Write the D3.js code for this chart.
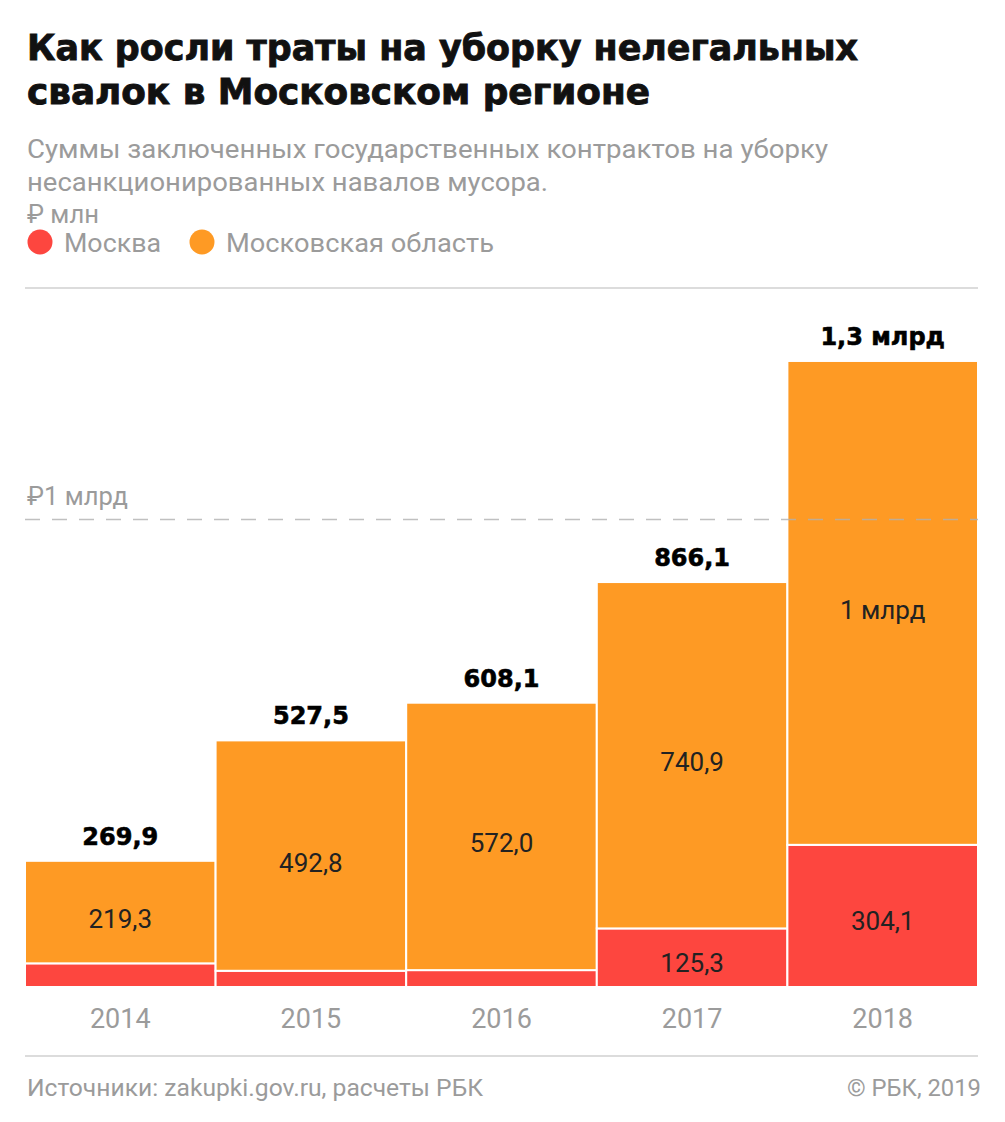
<!DOCTYPE html>
<html><head><meta charset="utf-8">
<script src="https://cdn.jsdelivr.net/npm/d3@7"></script>
<style>body{margin:0;background:#fff}svg{display:block}text{font-family:Roboto,"Noto Sans",sans-serif}</style>
</head><body>
<script>
const years = ["2014","2015","2016","2017","2018"];
const moscow = [50.6, 34.7, 36.1, 125.3, 304.1];
const region = [219.3, 492.8, 572.0, 740.9, 1035];
const totalLabels = ["269,9","527,5","608,1","866,1","1,3 млрд"];
const moscowLabels = ["","","","125,3","304,1"];
const regionLabels = ["219,3","492,8","572,0","740,9","1 млрд"];
const refValue = 1000;
const refLabel = "₽1 млрд";
const seriesNames = ["Москва","Московская область"];
const colors = ["#fd463f","#fe9a24"];

const W=1005,H=1122;
const svg=d3.select("body").append("svg").attr("width",W).attr("height",H);
const L=25,R=978;
const x=d3.scaleBand().domain(years).range([L,R]).padding(0);
const y=d3.scaleLinear().domain([0,1000]).range([987,519.5]);

function txt(xp,yp,s,size,fill,len,weight,family){
  const t=svg.append("text").attr("x",xp).attr("y",yp).attr("font-size",size).attr("fill",fill).text(s);
  if(weight) t.attr("font-weight",weight);
  if(family) t.style("font-family",family);
  if(len) t.attr("textLength",len).attr("lengthAdjust","spacingAndGlyphs");
  return t;
}
// title
const TF='"DejaVu Sans",sans-serif';
txt(27,60,"Как росли траты на уборку нелегальных",35,"#111",831,700,TF).attr("stroke","#111").attr("stroke-width",0.9);
txt(27,104,"свалок в Московском регионе",35,"#111",623,700,TF).attr("stroke","#111").attr("stroke-width",0.9);
txt(27,158,"Суммы заключенных государственных контрактов на уборку",25,"#9b9b9b",801);
txt(27,191,"несанкционированных навалов мусора.",25,"#9b9b9b",521);
txt(27,223,"₽ млн",25,"#9b9b9b",72);
// legend
const lx=[40,202], lw=[97,268];
seriesNames.forEach((n,i)=>{
  svg.append("circle").attr("cx",lx[i]).attr("cy",242).attr("r",12.5).attr("fill",colors[i]);
  txt(lx[i]+24,252,n,25,"#9b9b9b",lw[i]);
});
svg.append("line").attr("x1",L).attr("x2",R).attr("y1",288).attr("y2",288).attr("stroke","#dcdcdc").attr("stroke-width",2);

// bars
const g=svg.append("g");
years.forEach((yr,i)=>{
  const x0=x(yr), w=x.bandwidth();
  g.append("rect").attr("x",x0).attr("width",w).attr("y",y(moscow[i])).attr("height",y(0)-y(moscow[i]))
    .attr("fill",colors[0]).attr("stroke","#fff").attr("stroke-width",2);
  g.append("rect").attr("x",x0).attr("width",w).attr("y",y(moscow[i]+region[i])).attr("height",y(moscow[i])-y(moscow[i]+region[i]))
    .attr("fill",colors[1]).attr("stroke","#fff").attr("stroke-width",2);
});
// reference dashed line
svg.append("line").attr("x1",L).attr("x2",R).attr("y1",y(refValue)).attr("y2",y(refValue))
  .attr("stroke","#b0b0b0").attr("stroke-opacity",0.8).attr("stroke-width",1.5).attr("stroke-dasharray","15,12");
txt(27,y(refValue)-15,refLabel,25,"#9b9b9b",101);

// labels
years.forEach((yr,i)=>{
  const cx=x(yr)+x.bandwidth()/2;
  const top=moscow[i]+region[i];
  svg.append("text").attr("x",cx).attr("y",y(top)-16).attr("text-anchor","middle").attr("font-size",24).attr("font-weight",700)
    .style("font-family",TF).attr("fill","#000").attr("stroke","#000").attr("stroke-width",0.6).text(totalLabels[i]);
  svg.append("text").attr("x",cx).attr("y",(y(moscow[i])+y(top))/2+16).attr("text-anchor","middle").attr("font-size",26).attr("fill","#222").text(regionLabels[i]);
  if(moscowLabels[i]) svg.append("text").attr("x",cx).attr("y",(y(0)+y(moscow[i]))/2+14).attr("text-anchor","middle").attr("font-size",26).attr("fill","#222").text(moscowLabels[i]);
  svg.append("text").attr("x",cx).attr("y",1028).attr("text-anchor","middle").attr("font-size",27).attr("fill","#9b9b9b").text(yr);
});
svg.append("line").attr("x1",L).attr("x2",R).attr("y1",1056).attr("y2",1056).attr("stroke","#dcdcdc").attr("stroke-width",2);
txt(27,1096,"Источники: zakupki.gov.ru, расчеты РБК",23,"#9b9b9b",456);
txt(847,1096,"© РБК, 2019",23,"#9b9b9b",134);
</script>
</body></html>
